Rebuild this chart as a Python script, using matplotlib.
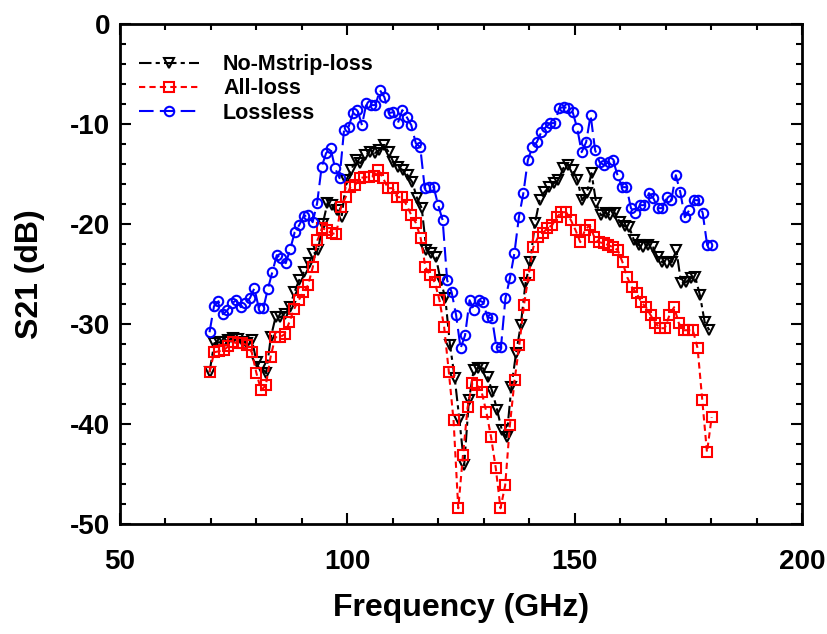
import matplotlib
matplotlib.use("Agg")
import matplotlib.pyplot as plt
import numpy as np
from matplotlib.ticker import MultipleLocator

# S21 (dB), swept from about 70 to 180 GHz
lossless = [
    -30.8, -28.2, -27.7, -29.0, -28.6, -27.9, -27.6, -28.3, -27.9, -27.4,
    -26.4, -28.4, -28.4, -26.5, -24.8, -23.1, -23.4, -23.9, -22.5, -20.8,
    -20.1, -19.2, -19.1, -19.8, -17.9, -14.3, -12.9, -12.4, -14.4, -15.4,
    -10.6, -10.3, -8.9, -8.6, -10.1, -7.9, -8.1, -8.1, -6.6, -7.3,
    -8.9, -8.8, -9.9, -8.6, -9.3, -10.1, -11.9, -12.3, -16.4, -16.3,
    -16.3, -18.1, -19.6, -25.6, -26.8, -29.1, -32.4, -31.1, -27.6, -28.6,
    -27.6, -27.8, -29.3, -29.4, -32.3, -32.3, -27.4, -25.4, -22.9, -19.3,
    -16.9, -13.6, -12.3, -11.8, -10.8, -10.3, -9.9, -9.9, -8.4, -8.3,
    -8.4, -8.8, -10.4, -12.8, -11.8, -9.1, -12.6, -13.8, -14.1, -13.8,
    -13.6, -15.1, -16.3, -16.3, -18.4, -18.9, -18.1, -18.1, -16.9, -17.4,
    -18.4, -18.4, -17.3, -17.6, -15.1, -16.8, -19.3, -18.6, -17.6, -17.6,
    -18.9, -22.1, -22.1,
]
no_mstrip_loss = [
    -34.8, -31.9, -31.8, -31.8, -31.6, -31.4, -31.5, -31.8, -31.9, -31.6,
    -33.8, -34.3, -34.9, -31.3, -29.3, -29.3, -29.0, -28.3, -26.8, -25.6,
    -24.8, -23.9, -23.0, -22.6, -20.0, -17.9, -18.1, -18.6, -19.3, -15.6,
    -14.6, -13.6, -13.9, -13.1, -12.8, -12.9, -12.6, -12.1, -12.8, -13.8,
    -14.3, -14.6, -15.1, -15.8, -17.4, -18.4, -22.6, -22.9, -23.3, -25.6,
    -27.4, -32.1, -35.4, -39.6, -44.1, -37.6, -34.6, -34.4, -34.4, -35.3,
    -36.8, -38.6, -40.6, -41.3, -36.3, -32.9, -30.1, -25.9, -23.8, -19.9,
    -17.6, -16.8, -16.3, -15.9, -15.6, -14.4, -14.1, -14.6, -15.6, -17.6,
    -16.9, -14.9, -17.9, -19.1, -18.9, -19.1, -18.9, -19.8, -20.2, -20.3,
    -21.6, -22.1, -22.3, -22.1, -22.3, -23.3, -23.8, -23.9, -23.8, -22.6,
    -25.9, -25.8, -25.4, -25.3, -27.1, -29.8, -30.6,
]
all_loss = [
    -34.8, -32.8, -32.7, -32.6, -32.2, -31.8, -31.9, -31.9, -32.1, -32.8,
    -34.9, -36.6, -36.1, -33.3, -31.3, -31.3, -31.0, -29.8, -28.5, -27.6,
    -26.8, -26.1, -24.3, -21.6, -20.4, -20.6, -20.9, -21.0, -18.3, -17.3,
    -16.3, -16.1, -15.4, -15.3, -15.3, -15.2, -14.6, -15.4, -16.4, -16.4,
    -17.3, -17.3, -18.1, -19.1, -19.9, -21.4, -24.3, -25.1, -25.8, -27.6,
    -30.3, -34.8, -39.6, -48.4, -43.1, -38.3, -35.9, -36.1, -36.8, -38.8,
    -41.3, -44.4, -48.4, -46.1, -40.1, -35.6, -32.1, -28.1, -25.1, -22.3,
    -21.3, -20.9, -20.4, -20.1, -19.3, -18.8, -18.8, -19.6, -20.6, -21.8,
    -20.6, -20.1, -21.3, -21.8, -21.9, -22.1, -22.3, -22.6, -23.8, -25.3,
    -26.3, -26.9, -27.8, -28.3, -29.1, -29.9, -30.4, -30.4, -29.1, -28.3,
    -29.9, -30.6, -30.6, -30.6, -32.4, -37.6, -42.8, -39.3,
]
# start / stop of each sweep (GHz)
lossless_span = (69.7, 180.1)
no_mstrip_span = (69.7, 179.6)
all_loss_span = (69.7, 180.1)

x_ticks = [50, 100, 150, 200]
y_ticks = [0, -10, -20, -30, -40, -50]


def sweep(span, values):
    return np.linspace(span[0], span[1], len(values))


plt.rcParams["font.family"] = ["Liberation Sans", "DejaVu Sans"]
plt.rcParams["font.weight"] = "bold"
plt.rcParams["axes.unicode_minus"] = False

fig = plt.figure(figsize=(8.27, 6.34), dpi=100)
ax = fig.add_axes([0.145, 0.173, 0.825, 0.789])

mk = dict(markerfacecolor="none", markeredgewidth=1.5, markersize=6.8, linewidth=1.5)
ax.plot(sweep(no_mstrip_span, no_mstrip_loss), no_mstrip_loss, color="black",
        marker="v", linestyle=(0, (6, 2, 2, 2)), label="No-Mstrip-loss", **mk)
ax.plot(sweep(all_loss_span, all_loss), all_loss, color="#ff0000",
        marker="s", linestyle=(0, (3, 2)), label="All-loss", **mk)
ax.plot(sweep(lossless_span, lossless), lossless, color="#0000ff",
        marker="o", linestyle=(0, (7, 3)), label="Lossless", **mk)

ax.set_xlim(50, 200)
ax.set_ylim(-50, 0)
ax.set_xticks(x_ticks)
ax.set_yticks(y_ticks)
ax.xaxis.set_minor_locator(MultipleLocator(10))
ax.yaxis.set_minor_locator(MultipleLocator(2))
ax.tick_params(which="both", direction="in", top=True, right=True, width=1.5)
ax.tick_params(which="major", length=8, labelsize=20)
ax.tick_params(axis="y", which="major", pad=7)
ax.tick_params(axis="x", which="major", pad=18)
ax.tick_params(which="minor", length=4)
for s in ax.spines.values():
    s.set_linewidth(2)

ax.set_xlabel("Frequency (GHz)", fontsize=23, fontweight="bold", labelpad=13)
ax.set_ylabel("S21 (dB)", fontsize=23, fontweight="bold", labelpad=18)

leg = ax.legend(loc="upper left", bbox_to_anchor=(-0.016, 1.0), frameon=False,
                fontsize=15.5, handlelength=2.8, borderaxespad=1.0,
                labelspacing=0.15, handletextpad=1.1)
for t in leg.get_texts():
    t.set_fontweight("bold")

fig.savefig("out.png", dpi=100)
